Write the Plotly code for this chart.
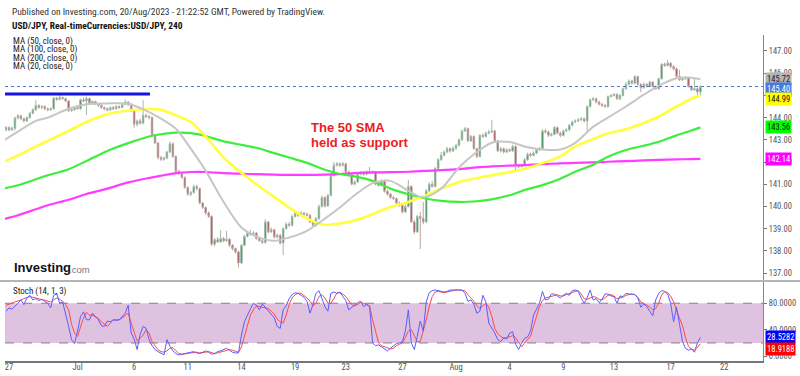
import plotly.graph_objects as go

# ---------------- data (4-hour USD/JPY bars, bar index 6 .. 239) ----------------
FIRST_BAR = 6
opens = [
    143.45, 143.55, 143.45, 143.52, 143.98, 144.08, 143.95, 143.85, 144.00, 144.20,
    144.35, 144.55, 144.45, 144.50, 144.40, 144.35, 144.40, 144.88, 144.82, 144.90,
    144.86, 144.75, 144.32, 144.36, 144.45, 144.40, 144.80, 144.75, 144.86, 144.66,
    144.72, 144.62, 144.55, 144.45, 144.40, 144.35, 144.45, 144.40, 144.50, 144.46,
    144.60, 144.70, 144.60, 144.30, 143.70, 143.85, 143.75, 144.10, 144.05, 144.00,
    143.20, 142.85, 142.20, 142.12, 142.18, 142.45, 142.82, 142.25, 141.58, 141.48,
    141.30, 140.85, 140.55, 140.62, 140.90, 140.80, 140.15, 139.95, 139.70, 139.55,
    138.30, 138.50, 138.40, 138.55, 138.45, 138.52, 138.25, 138.10, 137.95, 137.45,
    138.25, 138.65, 138.80, 138.75, 138.80, 138.55, 138.45, 138.38, 139.30, 138.85,
    138.95, 138.62, 138.70, 138.35, 139.00, 139.20, 139.15, 139.55, 139.70, 139.60,
    139.70, 139.65, 139.60, 139.30, 139.15, 139.45, 140.00, 140.40, 140.02, 140.50,
    141.40, 141.85, 141.92, 141.85, 141.92, 141.55, 141.45, 141.00, 141.10, 141.45,
    141.50, 141.45, 141.55, 141.50, 141.55, 141.00, 140.95, 141.15, 140.68, 140.55,
    140.40, 140.35, 140.15, 140.05, 139.75, 140.00, 140.90, 139.30, 138.85, 139.55,
    139.45, 139.30, 140.70, 141.00, 140.90, 141.70, 142.10, 142.30, 142.45, 142.60,
    142.50, 142.62, 142.75, 143.00, 143.40, 143.50, 142.95, 143.15, 142.60, 142.25,
    143.20, 143.15, 143.30, 143.35, 143.40, 142.95, 142.50, 142.60, 142.45, 142.55,
    142.50, 142.70, 141.85, 141.80, 141.85, 142.10, 142.35, 142.30, 142.40, 142.55,
    142.60, 143.40, 143.35, 143.20, 143.25, 143.55, 143.30, 143.20, 143.40, 143.45,
    143.65, 143.80, 143.85, 143.90, 143.95, 143.85, 144.50, 144.80, 144.85, 144.70,
    144.60, 144.55, 144.50, 144.95, 145.00, 145.05, 144.85, 145.00, 145.30, 145.50,
    145.65, 145.55, 145.85, 145.50, 145.35, 145.50, 145.40, 145.60, 145.40, 145.30,
    145.75, 146.40, 146.35, 146.45, 146.30, 146.20, 145.85, 145.70, 145.75, 145.80,
    145.40, 145.25, 145.30, 145.15,
]
highs = [
    143.62, 143.60, 143.60, 144.05, 144.15, 144.12, 144.00, 144.05, 144.25, 144.42,
    144.78, 144.60, 144.56, 144.55, 144.45, 144.46, 144.92, 144.93, 145.07, 144.95,
    144.90, 144.78, 144.42, 144.52, 144.50, 144.86, 144.90, 144.95, 144.90, 144.78,
    144.76, 144.66, 144.60, 144.50, 144.46, 144.50, 144.52, 144.56, 144.55, 144.66,
    144.82, 144.75, 144.64, 144.35, 143.92, 143.95, 144.78, 144.18, 144.12, 144.05,
    143.25, 142.90, 142.28, 142.25, 142.50, 142.92, 142.88, 142.30, 141.65, 141.55,
    141.35, 140.90, 140.70, 140.98, 140.98, 140.85, 140.20, 140.00, 139.78, 139.60,
    138.58, 138.62, 138.92, 138.62, 138.90, 138.58, 138.30, 138.15, 138.00, 138.30,
    138.72, 138.90, 138.95, 138.88, 138.85, 138.62, 138.52, 139.42, 139.35, 139.05,
    139.00, 138.78, 138.75, 139.05, 139.28, 139.30, 139.62, 139.78, 139.76, 139.78,
    139.75, 139.72, 139.65, 139.35, 139.52, 140.08, 140.48, 140.45, 140.56, 141.48,
    142.00, 142.00, 141.98, 142.00, 141.96, 141.62, 141.50, 141.18, 141.52, 141.58,
    141.58, 141.62, 141.78, 141.62, 141.60, 141.08, 141.22, 141.20, 140.75, 140.60,
    140.48, 140.40, 140.22, 140.10, 140.08, 141.20, 140.95, 139.40, 139.62, 139.75,
    140.20, 140.78, 141.08, 141.15, 141.78, 142.18, 142.45, 142.52, 142.68, 142.66,
    142.70, 142.82, 143.06, 143.46, 143.58, 143.55, 143.22, 143.20, 142.65, 143.26,
    143.28, 143.38, 143.45, 143.90, 143.45, 143.00, 142.68, 142.65, 142.62, 142.62,
    142.78, 142.75, 141.92, 141.92, 142.18, 142.42, 142.42, 142.48, 142.62, 142.68,
    143.48, 143.50, 143.42, 143.32, 143.62, 143.60, 143.36, 143.46, 143.52, 143.72,
    143.86, 143.92, 143.98, 144.02, 144.00, 144.55, 144.86, 144.92, 144.90, 144.76,
    144.66, 144.60, 145.00, 145.06, 145.10, 145.08, 145.06, 145.36, 145.60, 145.72,
    145.70, 145.92, 145.88, 145.55, 145.58, 145.55, 145.66, 145.64, 145.45, 145.80,
    146.45, 146.48, 146.60, 146.50, 146.36, 146.25, 146.15, 145.82, 145.86, 145.85,
    145.45, 145.75, 145.35, 145.45,
]
lows = [
    143.38, 143.38, 143.40, 143.42, 143.92, 143.88, 143.78, 143.80, 143.95, 144.15,
    144.30, 144.40, 144.38, 144.33, 144.28, 144.30, 144.35, 144.76, 144.78, 144.80,
    144.70, 144.25, 144.26, 144.30, 144.36, 144.36, 144.70, 144.12, 144.60, 144.60,
    144.56, 144.48, 144.40, 144.32, 144.28, 144.30, 144.34, 144.36, 144.40, 144.42,
    144.56, 144.52, 144.25, 143.55, 143.60, 143.68, 143.70, 143.98, 143.92, 143.15,
    142.80, 142.12, 142.05, 142.05, 142.12, 142.40, 142.18, 141.50, 141.40, 141.25,
    140.80, 140.48, 140.45, 140.58, 140.72, 140.10, 139.88, 139.62, 139.48, 138.22,
    138.20, 138.35, 138.35, 138.38, 138.40, 138.18, 138.02, 137.88, 137.25, 137.40,
    138.20, 138.60, 138.68, 138.66, 138.50, 138.40, 138.30, 138.32, 138.78, 138.80,
    138.55, 138.55, 138.28, 137.80, 138.95, 139.08, 139.10, 139.50, 139.52, 139.55,
    139.58, 139.55, 139.25, 139.08, 139.10, 139.40, 139.95, 139.95, 139.98, 140.45,
    141.35, 141.80, 141.78, 141.80, 141.48, 141.38, 140.95, 140.95, 141.05, 141.40,
    141.38, 141.40, 141.45, 141.45, 140.95, 140.88, 140.90, 140.62, 140.48, 140.35,
    140.28, 140.10, 139.98, 139.68, 139.70, 139.95, 139.25, 138.75, 138.80, 138.08,
    139.20, 139.25, 140.65, 140.85, 140.85, 141.65, 142.05, 142.25, 142.40, 142.42,
    142.45, 142.55, 142.70, 142.95, 143.35, 142.90, 142.90, 142.55, 142.18, 142.20,
    143.08, 143.10, 143.25, 143.30, 142.90, 142.45, 142.42, 142.38, 142.40, 142.44,
    142.45, 141.60, 141.72, 141.75, 141.80, 142.05, 142.22, 142.25, 142.35, 142.50,
    142.55, 143.28, 143.12, 143.15, 143.20, 143.25, 143.12, 143.15, 143.35, 143.40,
    143.60, 143.75, 143.80, 143.85, 143.78, 143.35, 144.45, 144.75, 144.64, 144.55,
    144.48, 144.44, 144.45, 144.90, 144.95, 144.80, 144.78, 144.95, 145.25, 145.45,
    145.48, 145.50, 145.45, 145.15, 145.30, 145.35, 145.36, 145.35, 145.25, 145.25,
    145.70, 146.28, 146.30, 146.22, 146.12, 145.80, 145.65, 145.65, 145.70, 145.35,
    145.20, 145.20, 145.00, 145.00,
]
closes = [
    143.55, 143.45, 143.52, 143.98, 144.08, 143.95, 143.85, 144.00, 144.20, 144.35,
    144.55, 144.45, 144.50, 144.40, 144.35, 144.40, 144.88, 144.82, 144.90, 144.86,
    144.75, 144.32, 144.36, 144.45, 144.40, 144.80, 144.75, 144.86, 144.66, 144.72,
    144.62, 144.55, 144.45, 144.40, 144.35, 144.45, 144.40, 144.50, 144.46, 144.60,
    144.70, 144.60, 144.30, 143.70, 143.85, 143.75, 144.10, 144.05, 144.00, 143.20,
    142.85, 142.20, 142.12, 142.18, 142.45, 142.82, 142.25, 141.58, 141.48, 141.30,
    140.85, 140.55, 140.62, 140.90, 140.80, 140.15, 139.95, 139.70, 139.55, 138.30,
    138.50, 138.40, 138.55, 138.45, 138.52, 138.25, 138.10, 137.95, 137.45, 138.25,
    138.65, 138.80, 138.75, 138.80, 138.55, 138.45, 138.38, 139.30, 138.85, 138.95,
    138.62, 138.70, 138.35, 139.00, 139.20, 139.15, 139.55, 139.70, 139.60, 139.70,
    139.65, 139.60, 139.30, 139.15, 139.45, 140.00, 140.40, 140.02, 140.50, 141.40,
    141.85, 141.92, 141.85, 141.92, 141.55, 141.45, 141.00, 141.10, 141.45, 141.50,
    141.45, 141.55, 141.50, 141.55, 141.00, 140.95, 141.15, 140.68, 140.55, 140.40,
    140.35, 140.15, 140.05, 139.75, 140.00, 140.90, 139.30, 138.85, 139.55, 139.45,
    139.30, 140.70, 141.00, 140.90, 141.70, 142.10, 142.30, 142.45, 142.60, 142.50,
    142.62, 142.75, 143.00, 143.40, 143.50, 142.95, 143.15, 142.60, 142.25, 143.20,
    143.15, 143.30, 143.35, 143.40, 142.95, 142.50, 142.60, 142.45, 142.55, 142.50,
    142.70, 141.85, 141.80, 141.85, 142.10, 142.35, 142.30, 142.40, 142.55, 142.60,
    143.40, 143.35, 143.20, 143.25, 143.55, 143.30, 143.20, 143.40, 143.45, 143.65,
    143.80, 143.85, 143.90, 143.95, 143.85, 144.50, 144.80, 144.85, 144.70, 144.60,
    144.55, 144.50, 144.95, 145.00, 145.05, 144.85, 145.00, 145.30, 145.50, 145.65,
    145.55, 145.85, 145.50, 145.35, 145.50, 145.40, 145.60, 145.40, 145.30, 145.75,
    146.40, 146.35, 146.45, 146.30, 146.20, 145.85, 145.70, 145.75, 145.80, 145.40,
    145.25, 145.30, 145.15, 145.40,
]

# moving averages at these bar indices
ma_bars = [5, 10, 16, 20, 27, 33, 40, 47, 54, 58, 63, 68, 73, 79, 85, 90, 96, 101,
           107, 113, 118, 123, 129, 135, 141, 146, 152, 158, 163, 169, 175, 180, 186,
           192, 197, 203, 208, 214, 220, 225, 231, 236, 239]
ma20 = [142.95, 143.37, 143.85, 144.0, 144.4, 144.6, 144.64, 144.62, 144.25, 143.95,
        143.5, 142.6, 141.6, 140.2, 139.05, 138.65, 138.45, 138.6, 138.9, 139.45,
        139.95, 140.5, 141.05, 141.15, 140.7, 140.4, 140.8, 141.75, 142.35, 142.87,
        142.9, 142.7, 142.56, 142.56, 142.86, 143.58, 144.0, 144.5, 145.03, 145.43,
        145.77, 145.8, 145.72]
ma50 = [142.0, 142.3, 142.7, 142.95, 143.4, 143.8, 144.15, 144.32, 144.39, 144.35,
        144.1, 143.8, 143.15, 142.2, 141.52, 141.0, 140.42, 139.95, 139.45, 139.17,
        139.23, 139.36, 139.65, 139.97, 140.2, 140.45, 140.8, 141.1, 141.25, 141.4,
        141.55, 141.7, 141.95, 142.25, 142.7, 143.03, 143.29, 143.48, 143.76, 144.05,
        144.5, 144.85, 144.99]
ma100 = [140.8, 140.95, 141.22, 141.4, 141.67, 142.05, 142.5, 142.85, 143.15, 143.25,
         143.32, 143.3, 143.17, 142.93, 142.77, 142.64, 142.4, 142.2, 141.96, 141.65,
         141.46, 141.35, 141.15, 140.8, 140.55, 140.38, 140.25, 140.2, 140.22, 140.32,
         140.5, 140.74, 140.96, 141.25, 141.56, 141.88, 142.24, 142.54, 142.73, 142.91,
         143.2, 143.42, 143.56]
ma200 = [139.42, 139.6, 139.87, 140.05, 140.3, 140.56, 140.8, 141.08, 141.28, 141.38,
         141.5, 141.55, 141.55, 141.5, 141.47, 141.45, 141.43, 141.42, 141.42, 141.43,
         141.45, 141.5, 141.53, 141.54, 141.56, 141.6, 141.63, 141.68, 141.75, 141.8,
         141.84, 141.86, 141.9, 141.94, 141.96, 141.98, 142.01, 142.04, 142.07, 142.1,
         142.12, 142.13, 142.14]

# Stochastic (14, 1, 3): %K (blue) and %D (red), one value per bar
stoch_k = [
    68, 73, 71, 75, 80, 85, 78, 88, 92, 85,
    87, 84, 86, 83, 80, 73, 92, 95, 80, 82,
    65, 45, 25, 19, 38, 60, 67, 55, 55, 65,
    60, 55, 46, 45, 53, 52, 55, 54, 55, 60,
    65, 77, 35, 26, 10, 33, 45, 42, 25, 16,
    10, 7, 4, 2, 25, 15, 8, 4, 2, 3,
    4, 5, 6, 7, 5, 4, 6, 8, 6, 3,
    4, 7, 8, 10, 12, 9, 6, 5, 5, 32,
    52, 62, 72, 80, 77, 70, 79, 74, 68, 63,
    58, 45, 42, 70, 76, 87, 93, 96, 95, 92,
    89, 83, 65, 78, 95, 99, 88, 75, 68, 95,
    97, 95, 97, 90, 84, 70, 74, 78, 81, 83,
    75, 78, 75, 20, 16, 17, 14, 11, 8, 12,
    16, 19, 20, 22, 38, 70, 20, 10, 30, 53,
    38, 82, 96, 99, 100, 99, 97, 97, 98, 100,
    100, 100, 100, 100, 95, 83, 85, 78, 65, 68,
    92, 82, 50, 43, 35, 25, 22, 28, 26, 35,
    37, 18, 10, 20, 27, 29, 38, 62, 71, 80,
    98, 85, 86, 94, 94, 91, 88, 92, 95, 92,
    99, 100, 98, 88, 80, 88, 100, 85, 87, 81,
    86, 94, 94, 91, 90, 80, 91, 90, 95, 94,
    94, 93, 88, 74, 79, 75, 68, 61, 85, 95,
    99, 98, 94, 80, 52, 74, 48, 22, 12, 9,
    11, 6, 20, 28.5282,
]
stoch_d = [
    77, 78, 80, 82, 83, 85, 87, 88, 90, 89,
    88, 86, 85, 85, 83, 82, 85, 88, 86, 83,
    78, 70, 48, 35, 30, 45, 58, 66, 62, 62,
    60, 57, 52, 48, 45, 50, 55, 55, 55, 58,
    62, 65, 50, 35, 23, 27, 32, 40, 35, 22,
    15, 10, 7, 6, 8, 12, 13, 8, 4, 3,
    3, 4, 5, 6, 6, 5, 5, 6, 7, 6,
    4, 5, 6, 8, 9, 10, 9, 7, 6, 14,
    30, 48, 62, 70, 76, 75, 74, 73, 72, 68,
    64, 56, 52, 50, 62, 78, 88, 93, 95, 95,
    92, 88, 83, 76, 80, 90, 93, 88, 80, 80,
    87, 95, 96, 94, 90, 83, 78, 76, 78, 81,
    80, 78, 76, 55, 38, 20, 16, 14, 12, 11,
    12, 16, 18, 20, 28, 38, 40, 30, 22, 22,
    38, 55, 75, 90, 97, 98, 97, 96, 97, 98,
    100, 100, 100, 100, 99, 93, 88, 83, 76, 72,
    76, 80, 74, 60, 42, 34, 30, 27, 28, 30,
    31, 28, 20, 14, 20, 25, 30, 45, 60, 75,
    84, 88, 89, 90, 92, 93, 91, 91, 93, 94,
    96, 98, 99, 94, 87, 86, 88, 90, 89, 86,
    85, 88, 92, 93, 91, 87, 88, 89, 92, 93,
    94, 93, 89, 82, 80, 77, 74, 70, 72, 80,
    93, 97, 96, 91, 82, 68, 57, 46, 28, 15,
    11, 9, 13, 18.9188,
]

# resistance line drawn on the chart
resistance_level = 145.06
resistance_bars = [5.6, 54.3]
last_price = 145.40

# x-axis labels (first bar of each labelled day)
tick_bars = [7, 30, 49, 67, 85, 103, 120, 139, 157, 175, 193, 210, 229, 247]
tick_labels = ["27", "Jul", "6", "11", "14", "19", "23", "27", "Aug", "4", "9", "13", "17", "22"]
price_ticks = [137, 138, 139, 140, 141, 142, 143, 144, 145, 146, 147]
stoch_ticks = [0, 40, 80]

bars = list(range(FIRST_BAR, FIRST_BAR + len(closes)))

# ---------------- layout helpers ----------------
W, H = 800, 376
ML, MR, MT, MB = 5, 37, 35, 15
PW = W - ML - MR
PH = H - MT - MB


def px(xp):
    return (xp - ML) / PW


def py(yp):
    return (H - MB - yp) / PH


SPLIT = py(281)
NARROW = "Roboto Condensed, Liberation Sans Narrow, Arial Narrow, Liberation Sans, Arial, sans-serif"
ARIAL = "Liberation Sans, Arial, sans-serif"

fig = go.Figure()

for vals, color, width in [(ma200, "#ff3cff", 2.2), (ma100, "#3dee3d", 2.2),
                           (ma50, "#ffff3a", 2.6), (ma20, "#c6c6c6", 2.0)]:
    fig.add_trace(go.Scatter(x=ma_bars, y=vals, mode="lines",
                             line=dict(color=color, width=width, shape="spline", smoothing=0.8),
                             hoverinfo="skip", showlegend=False))

fig.add_trace(go.Candlestick(
    x=bars, open=opens, high=highs, low=lows, close=closes,
    increasing=dict(fillcolor="#1f7d3c", line=dict(color="#9dbca6", width=1)),
    decreasing=dict(fillcolor="#a32e2b", line=dict(color="#bba4a4", width=1)),
    whiskerwidth=0, showlegend=False))

fig.add_trace(go.Scatter(x=bars, y=stoch_d, yaxis="y2", mode="lines",
                         line=dict(color="#ff4a4a", width=1), showlegend=False))
fig.add_trace(go.Scatter(x=bars, y=stoch_k, yaxis="y2", mode="lines",
                         line=dict(color="#5c5cff", width=1), showlegend=False))

shapes = [
    dict(type="rect", xref="paper", yref="y2", x0=0, x1=1, y0=20, y1=80,
         fillcolor="#dfc2df", line=dict(width=0), layer="below"),
    dict(type="line", xref="paper", yref="y2", x0=0, x1=1, y0=80, y1=80,
         line=dict(color="#8d7b8d", width=1, dash="dash")),
    dict(type="line", xref="paper", yref="y2", x0=0, x1=1, y0=20, y1=20,
         line=dict(color="#8d7b8d", width=1, dash="dash")),
    dict(type="line", xref="paper", yref="y", x0=0, x1=1, y0=last_price, y1=last_price,
         line=dict(color="#4a78dc", width=1, dash="dot")),
    dict(type="line", xref="x", yref="y", x0=resistance_bars[0], x1=resistance_bars[1],
         y0=resistance_level, y1=resistance_level, line=dict(color="#1414e6", width=3)),
    dict(type="line", xref="paper", yref="paper", x0=px(0), x1=px(800), y0=SPLIT, y1=SPLIT,
         line=dict(color="#b4b4b4", width=2)),
]

ann = []


def text(x, y, s, size, color="#222", family=NARROW, bold=False):
    ann.append(dict(xref="paper", yref="paper", x=px(x), y=py(y), xanchor="left",
                    yanchor="middle", showarrow=False,
                    text=("<b>%s</b>" % s) if bold else s,
                    font=dict(size=size, color=color, family=family)))


text(10, 12, "Published on Investing.com, 20/Aug/2023 - 21:22:52 GMT, Powered by TradingView.", 9.5, "#333")
text(10, 26, "USD/JPY, Real-timeCurrencies:USD/JPY, 240", 9.5, "#111", bold=True)
for i, s in enumerate(["MA (50, close, 0)", "MA (100, close, 0)", "MA (200, close, 0)", "MA (20, close, 0)"]):
    text(11, 42 + 8 * i, s, 9, "#222")
text(11, 291, "Stoch (14, 1, 3)", 9, "#222")
text(309, 127, "The 50 SMA", 13, "#ee1c24", ARIAL, bold=True)
text(309, 142, "held as support", 13, "#ee1c24", ARIAL, bold=True)
text(12, 267, "Investing", 13, "#111", ARIAL, bold=True)
text(67, 269, ".com", 9.5, "#777", ARIAL)


def tag(v, yref, fmt, bg, fg, yshift=0):
    ann.append(dict(xref="paper", yref=yref, x=1, y=v, xanchor="left", yanchor="middle",
                    xshift=2, yshift=yshift, showarrow=False, text=fmt % v,
                    bgcolor=bg, borderpad=1,
                    font=dict(size=8.5, color=fg, family=NARROW)))


tag(ma20[-1], "y", "%.2f", "#b4b4b4", "#222")
tag(closes[-1], "y", "%.2f", "#4a78dc", "#ffffff", -2)
tag(ma50[-1], "y", "%.2f", "#ffff00", "#111", -3)
tag(ma100[-1], "y", "%.2f", "#00ff00", "#111")
tag(ma200[-1], "y", "%.2f", "#ff00ff", "#ffffff")
tag(stoch_k[-1], "y2", "%.4f", "#0000ff", "#ffffff")
tag(stoch_d[-1], "y2", "%.4f", "#ff0000", "#ffffff", -5)

axis_font = dict(size=8.5, color="#555", family=NARROW)
fig.update_layout(
    width=W, height=H, margin=dict(l=ML, r=MR, t=MT, b=MB, autoexpand=False),
    paper_bgcolor="white", plot_bgcolor="white", showlegend=False,
    xaxis=dict(range=[5.66, 260.0], anchor="y2", tickmode="array", tickvals=tick_bars,
               ticktext=tick_labels, showgrid=False, zeroline=False, showline=True,
               linecolor="#777", linewidth=1.5, ticks="", tickfont=axis_font,
               ticklabelstandoff=-3, automargin=False,
               rangeslider=dict(visible=False), fixedrange=True),
    yaxis=dict(domain=[SPLIT, 1], range=[136.64, 147.72], side="right", tickmode="array",
               tickvals=price_ticks, tickformat=".2f", ticks="outside", ticklen=3,
               tickcolor="#777", showline=True, linecolor="#888", showgrid=False,
               zeroline=False, tickfont=axis_font, automargin=False, fixedrange=True),
    yaxis2=dict(domain=[0, SPLIT], range=[-7.25, 113.6], side="right", tickmode="array",
                tickvals=stoch_ticks, tickformat=".4f", ticks="outside", ticklen=3,
                tickcolor="#777", showline=True, linecolor="#888", showgrid=False,
                zeroline=False, tickfont=axis_font, automargin=False, fixedrange=True),
    shapes=shapes, annotations=ann,
)

fig.write_html("out.html", config={"displayModeBar": False},
               post_script="document.body.style.margin='0px';document.body.style.overflow='hidden';")
